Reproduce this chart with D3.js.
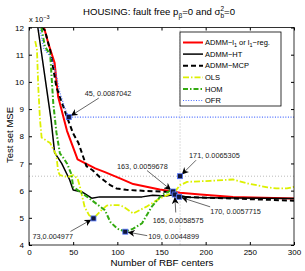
<!DOCTYPE html>
<html>
<head>
<meta charset="utf-8">
<script src="https://cdn.jsdelivr.net/npm/d3@7"></script>
<style>
body { margin: 0; background: #fff; }
svg { font-family: "Liberation Sans", Arial, sans-serif; }
</style>
</head>
<body>
<div id="chart"></div>
<script>
// values in units of 1e-3
let l1X = [17, 22, 29, 33, 43, 55, 75, 86, 103, 118, 148, 163, 171, 194, 231, 300];
let l1Y = [12.0, 11.4, 10.7, 9.45, 8.2, 7.15, 6.82, 6.68, 6.45, 6.24, 6.04, 5.9678, 5.92, 5.86, 5.77, 5.71];

let htX = [10, 25, 29, 37, 46, 50, 60, 71, 80, 100, 128, 140, 155, 165, 180, 200, 300];
let htY = [12.0, 8.6, 7.4, 7.0, 6.4, 6.02, 5.95, 5.72, 5.77, 5.77, 5.77, 5.83, 5.8, 5.8575, 5.76, 5.74, 5.71];

let mcpX = [14, 18, 24, 31, 43, 50, 56, 65, 72, 80, 92, 99, 110, 131, 154, 163, 170, 230, 300];
let mcpY = [12.0, 11.9, 11.16, 9.81, 8.71, 8.1, 7.75, 6.9, 6.75, 6.5, 6.2, 6.08, 6.03, 5.99, 5.96, 5.94, 5.7715, 5.71, 5.63];

let olsX = [7, 9, 10.5, 12.5, 14.3, 24, 31, 33, 35, 44, 50, 55, 58, 63, 68, 73, 82, 88, 95, 101, 107, 118, 133, 145, 152, 165, 171, 179, 205, 231, 248, 258, 270, 280, 292, 300];
let olsY = [11.5, 11.2, 9.81, 8.59, 7.95, 7.75, 7.3, 6.7, 6.57, 6.5, 6.57, 6.45, 6.1, 5.4, 5.1, 4.977, 5.28, 5.45, 5.47, 5.47, 5.41, 5.16, 5.41, 5.65, 5.77, 5.96, 6.2, 6.32, 6.36, 6.41, 6.26, 6.2, 6.12, 6.08, 6.08, 6.14];

let homX = [14, 18, 24, 27.5, 31, 35, 39, 43, 48, 50, 60, 66, 77, 86, 92, 100, 109, 118, 128, 139, 150, 160, 165];
let homY = [12.0, 11.3, 11.0, 9.2, 8.15, 7.37, 7.2, 7.0, 6.6, 6.14, 5.9, 5.77, 5.5, 5.28, 4.85, 4.6, 4.4899, 4.6, 4.8, 5.41, 5.83, 6.0, 5.8575];

let ofrX = [12, 17, 25, 30, 35, 41, 45, 300];
let ofrY = [12.0, 11.2, 10.9, 10.4, 9.6, 9.0, 8.7042, 8.7042];

let seriesNames = ["ADMM\u2212l1 or l1\u2212reg.", "ADMM\u2212HT", "ADMM\u2212MCP", "OLS", "HOM", "OFR"];

let xTicks = [0, 50, 100, 150, 200, 250, 300];
let yTicks = [4, 5, 6, 7, 8, 9, 10, 11, 12];

// data tips: x, value (1e-3)
let tipX = [45, 73, 109, 163, 165, 170, 171];
let tipY = [8.7042, 4.977, 4.4899, 5.9678, 5.8575, 5.7715, 6.5305];
let tipText = ["45, 0.0087042", "73,0.004977", "109, 0.0044899", "163, 0.0059678", "165, 0.0058575", "170, 0.0057715", "171, 0.0065305"];

let W = 305, H = 271;
let pLeft = 29, pRight = 294, pTop = 27.5, pBottom = 245;

let svg = d3.select("#chart").append("svg")
    .attr("width", W)
    .attr("height", H);

let x = d3.scaleLinear().domain([0, 300]).range([pLeft, pRight]);
let y = d3.scaleLinear().domain([4, 12]).range([pBottom, pTop]);

let defs = svg.append("defs");
defs.append("clipPath").attr("id", "plotclip")
    .append("rect")
    .attr("x", pLeft).attr("y", pTop)
    .attr("width", pRight - pLeft).attr("height", pBottom - pTop);
defs.append("marker")
    .attr("id", "arrow")
    .attr("viewBox", "0 0 10 10")
    .attr("refX", 10).attr("refY", 5)
    .attr("markerWidth", 7).attr("markerHeight", 7)
    .attr("markerUnits", "userSpaceOnUse")
    .attr("orient", "auto")
    .append("path")
    .attr("d", "M0,0 L10,5 L0,10 L3,5 Z")
    .attr("fill", "#000");

svg.append("rect")
    .attr("x", pLeft).attr("y", pTop)
    .attr("width", pRight - pLeft).attr("height", pBottom - pTop)
    .attr("fill", "#fff");

// crosshair of the 171 data tip
svg.append("line")
    .attr("x1", x(171)).attr("x2", x(171))
    .attr("y1", pTop).attr("y2", pBottom)
    .attr("stroke", "#aaa").attr("stroke-width", 0.8)
    .attr("stroke-dasharray", "1,2");
svg.append("line")
    .attr("x1", pLeft).attr("x2", pRight)
    .attr("y1", y(6.5305)).attr("y2", y(6.5305))
    .attr("stroke", "#aaa").attr("stroke-width", 0.8)
    .attr("stroke-dasharray", "1,2");

let styles = [
    {color: "#ff0000", width: 2, dash: null},
    {color: "#000000", width: 1.5, dash: null},
    {color: "#000000", width: 2, dash: "5,3"},
    {color: "#dcf000", width: 1.8, dash: "6,2,1.5,2"},
    {color: "#33aa11", width: 2, dash: "5,2,1.5,2"},
    {color: "#4a6cff", width: 1.2, dash: "1,1.6"}
];

let series = [
    d3.zip(l1X, l1Y),
    d3.zip(htX, htY),
    d3.zip(mcpX, mcpY),
    d3.zip(olsX, olsY),
    d3.zip(homX, homY),
    d3.zip(ofrX, ofrY)
];

let line = d3.line()
    .x(function(d) { return x(d[0]); })
    .y(function(d) { return y(d[1]); });

let plot = svg.append("g").attr("clip-path", "url(#plotclip)");

plot.selectAll("path.series")
    .data(series)
    .enter().append("path")
    .attr("class", "series")
    .attr("d", line)
    .attr("fill", "none")
    .attr("stroke", function(d, i) { return styles[i].color; })
    .attr("stroke-width", function(d, i) { return styles[i].width; })
    .attr("stroke-dasharray", function(d, i) { return styles[i].dash; })
    .attr("stroke-linejoin", "round");

// annotations: label position relative to marker, arrow start
let labelOff = [
    {tx: 16, ty: -24, ax: 30, ay: -19},
    {tx: -61, ty: 18, ax: -23, ay: 13},
    {tx: 23, ty: 4.5, ax: 22, ay: 4},
    {tx: -56, ty: -25, ax: -26, ay: -21},
    {tx: -22, ty: 25.5, ax: 1, ay: 18},
    {tx: 31, ty: 15, ax: 31, ay: 10},
    {tx: 9, ty: -21, ax: 16, ay: -16}
];

let tips = d3.zip(tipX, tipY);

svg.selectAll("line.arrow")
    .data(tips)
    .enter().append("line")
    .attr("class", "arrow")
    .attr("x1", function(d, i) { return x(d[0]) + labelOff[i].ax; })
    .attr("y1", function(d, i) { return y(d[1]) + labelOff[i].ay; })
    .attr("x2", function(d, i) {
        let dx = labelOff[i].ax, dy = labelOff[i].ay, r = Math.sqrt(dx * dx + dy * dy);
        return x(d[0]) + dx * 2.5 / r;
    })
    .attr("y2", function(d, i) {
        let dx = labelOff[i].ax, dy = labelOff[i].ay, r = Math.sqrt(dx * dx + dy * dy);
        return y(d[1]) + dy * 2.5 / r;
    })
    .attr("stroke", "#000")
    .attr("stroke-width", 0.6)
    .attr("marker-end", "url(#arrow)");

svg.selectAll("rect.tip")
    .data(tips)
    .enter().append("rect")
    .attr("class", "tip")
    .attr("x", function(d) { return x(d[0]) - 2.5; })
    .attr("y", function(d) { return y(d[1]) - 2.5; })
    .attr("width", 5).attr("height", 5)
    .attr("fill", "#10163a")
    .attr("stroke", "#5577ff")
    .attr("stroke-width", 0.8);

svg.selectAll("text.tip")
    .data(tips)
    .enter().append("text")
    .attr("class", "tip")
    .attr("x", function(d, i) { return x(d[0]) + labelOff[i].tx; })
    .attr("y", function(d, i) { return y(d[1]) + labelOff[i].ty; })
    .attr("dy", "0.35em")
    .attr("font-size", 7.3)
    .attr("fill", "#222")
    .text(function(d, i) { return tipText[i]; });

// axes, ticks pointing inwards
svg.append("g")
    .attr("transform", "translate(0," + pBottom + ")")
    .call(d3.axisBottom(x).tickValues(xTicks).tickSize(-3).tickSizeOuter(0).tickPadding(4))
    .call(function(g) {
        g.select(".domain").remove();
        g.selectAll("text").attr("font-size", 8).attr("font-family", null).attr("fill", "#000");
    });
svg.append("g")
    .attr("transform", "translate(0," + pTop + ")")
    .call(d3.axisTop(x).tickValues(xTicks).tickSize(-3).tickSizeOuter(0).tickFormat(""))
    .call(function(g) { g.select(".domain").remove(); });
svg.append("g")
    .attr("transform", "translate(" + pLeft + ",0)")
    .call(d3.axisLeft(y).tickValues(yTicks).tickSize(-3).tickSizeOuter(0).tickPadding(5))
    .call(function(g) {
        g.select(".domain").remove();
        g.selectAll("text").attr("font-size", 8).attr("font-family", null).attr("fill", "#000");
    });
svg.append("g")
    .attr("transform", "translate(" + pRight + ",0)")
    .call(d3.axisRight(y).tickValues(yTicks).tickSize(-3).tickSizeOuter(0).tickFormat(""))
    .call(function(g) { g.select(".domain").remove(); });

svg.append("rect")
    .attr("x", pLeft).attr("y", pTop)
    .attr("width", pRight - pLeft).attr("height", pBottom - pTop)
    .attr("fill", "none")
    .attr("stroke", "#000")
    .attr("stroke-width", 0.8);

// exponent
let expo = svg.append("text")
    .attr("x", pLeft)
    .attr("y", 22)
    .attr("font-size", 7.5);
expo.append("tspan").text("x 10");
expo.append("tspan").attr("dy", -3).attr("font-size", 5.5).text("\u22123");

// title
let title = svg.append("text")
    .attr("x", 83)
    .attr("y", 15)
    .attr("font-size", 9.6);
title.append("tspan").text("HOUSING: fault free p");
title.append("tspan").attr("dy", 2.5).attr("font-size", 6.5).text("\u03b2");
title.append("tspan").attr("dy", -2.5).text("=0 and \u03c3");
title.append("tspan").attr("dy", -4).attr("font-size", 6.5).text("2");
title.append("tspan").attr("dy", 7).attr("dx", -3.6).attr("font-size", 6.5).text("b");
title.append("tspan").attr("dy", -3).text("=0");

svg.append("text")
    .attr("x", 162)
    .attr("y", 266)
    .attr("text-anchor", "middle")
    .attr("font-size", 9.8)
    .text("Number of RBF centers");

svg.append("text")
    .attr("transform", "translate(13," + 135 + ") rotate(-90)")
    .attr("text-anchor", "middle")
    .attr("font-size", 9.5)
    .text("Test set MSE");

// legend
let legend = svg.append("g");
legend.append("rect")
    .attr("x", 180).attr("y", 32)
    .attr("width", 101).attr("height", 74)
    .attr("fill", "#fff")
    .attr("stroke", "#000")
    .attr("stroke-width", 0.8);

let rows = legend.selectAll("g.row")
    .data(seriesNames)
    .enter().append("g")
    .attr("class", "row")
    .attr("transform", function(d, i) { return "translate(183," + (42.5 + i * 11.6) + ")"; });

rows.append("line")
    .attr("x1", 0).attr("x2", 20)
    .attr("stroke", function(d, i) { return styles[i].color; })
    .attr("stroke-width", function(d, i) { return styles[i].width; })
    .attr("stroke-dasharray", function(d, i) { return styles[i].dash; });

rows.append("text")
    .attr("x", 22)
    .attr("dy", "0.35em")
    .attr("font-size", 7.5)
    .each(function(d) {
        let t = d3.select(this);
        let parts = d.split("1");
        parts.forEach(function(p, k) {
            t.append("tspan").attr("dy", k > 0 ? -2 : null).text(p);
            if (k < parts.length - 1) {
                t.append("tspan").attr("dy", 2).attr("font-size", 5.5).text("1");
            }
        });
    });
</script>
</body>
</html>
